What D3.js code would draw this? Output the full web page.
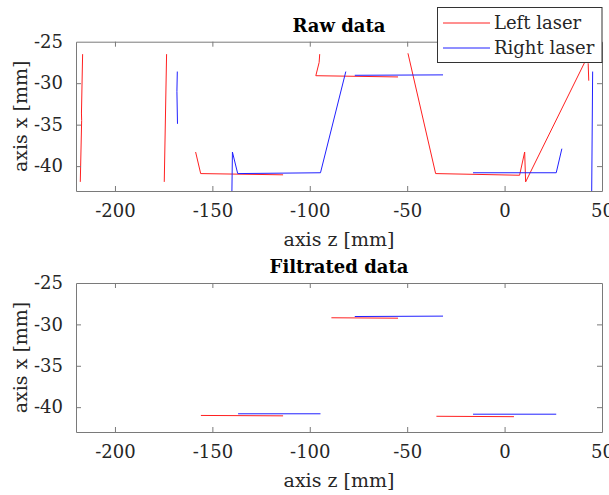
<!DOCTYPE html>
<html lang="en">
<head>
<meta charset="UTF-8">
<title>Raw and filtrated laser data</title>
<script src="https://d3js.org/d3.v7.min.js"></script>
<style>
	body { margin: 0; background: #fff; }
	svg { display: block; font-family: "DejaVu Serif", serif; }
</style>
</head>
<body>
<svg id="chart" width="609" height="495"></svg>
<script>
	// axis ticks and ranges
	var zTicks = [-200, -150, -100, -50, 0, 50];
	var xTicks = [-25, -30, -35, -40];
	var zDomain = [-220, 50];
	var xDomain = [-43, -25];

	// raw data, each segment is a list of [z, x] points
	var rawLeft = [
		[[-216.6, -26.5], [-217.2, -33.6], [-217.1, -34.5], [-217.8, -41.9]],
		[[-173.5, -26.5], [-174.7, -41.9]],
		[[-158.6, -38.3], [-156.0, -40.9], [-113.7, -41.05]],
		[[-94.9, -26.5], [-95.2, -27.5], [-96.9, -29.1], [-54.7, -29.25]],
		[[-49.6, -26.4], [-35.4, -40.9], [7.7, -41.1], [10.3, -38.3], [10.8, -41.9], [41.3, -27.4], [42.5, -25.5]],
		[[42.9, -27.6], [43.2, -29.7]]
	];
	var rawRight = [
		[[-168.0, -28.6], [-168.2, -31.0], [-167.9, -34.9]],
		[[-140.0, -43.5], [-139.7, -38.3], [-137.0, -40.9], [-94.5, -40.8], [-81.5, -28.6]],
		[[-76.9, -29.05], [-31.6, -29.0]],
		[[-16.2, -40.8], [26.5, -40.8], [29.4, -37.9]],
		[[45.2, -28.6], [44.7, -43.5]]
	];

	// filtrated data
	var filtLeft = [
		[[-155.9, -41.0], [-113.7, -41.05]],
		[[-88.9, -29.2], [-54.7, -29.25]],
		[[-35.0, -41.1], [4.8, -41.15]]
	];
	var filtRight = [
		[[-136.8, -40.8], [-94.5, -40.8]],
		[[-76.9, -29.05], [-31.6, -29.0]],
		[[-16.2, -40.85], [26.5, -40.85]]
	];

	var svg = d3.select("#chart");
	var left = 76, right = 602;
	var textColor = "#262626", axisColor = "#7a7a7a";
	var red = "#ff2020", blue = "#2020ff";
	var fmt = function(d) { return String(d); }; // plain hyphen minus like the original

	function panel(id, top, bottom, title, leftSeg, rightSeg) {
		var sx = d3.scaleLinear().domain(zDomain).range([left, right]);
		var sy = d3.scaleLinear().domain(xDomain).range([bottom, top]);
		var g = svg.append("g");

		g.append("clipPath").attr("id", id)
			.append("rect").attr("x", left).attr("y", top)
			.attr("width", right - left).attr("height", bottom - top);

		var line = d3.line().x(function(d) { return sx(d[0]); }).y(function(d) { return sy(d[1]); });
		var plot = g.append("g").attr("clip-path", "url(#" + id + ")");
		plot.selectAll("path.l").data(leftSeg).enter().append("path")
			.attr("d", line).attr("fill", "none").attr("stroke", red).attr("stroke-width", 1);
		plot.selectAll("path.r").data(rightSeg).enter().append("path")
			.attr("d", line).attr("fill", "none").attr("stroke", blue).attr("stroke-width", 1);

		// axes with inward ticks on all four sides (box)
		var axes = [
			[d3.axisBottom(sx).tickValues(zTicks), "translate(0," + bottom + ")", true],
			[d3.axisTop(sx).tickValues(zTicks), "translate(0," + top + ")", false],
			[d3.axisLeft(sy).tickValues(xTicks), "translate(" + left + ",0)", true],
			[d3.axisRight(sy).tickValues(xTicks), "translate(" + right + ",0)", false]
		];
		axes.forEach(function(a) {
			var ag = g.append("g").attr("transform", a[1])
				.call(a[0].tickFormat(fmt).tickSizeInner(-5).tickSizeOuter(0).tickPadding(a[2] ? 13 : 0));
			ag.select(".domain").attr("stroke", axisColor);
			ag.selectAll(".tick line").attr("stroke", axisColor);
			ag.selectAll("text").attr("font-size", 18).attr("fill", textColor)
				.attr("font-family", "DejaVu Serif");
			if (!a[2]) ag.selectAll("text").remove();
		});
		// ticks that sit on the frame corners are not drawn
		g.selectAll(".tick").filter(function(d) { return d === -25 || d === 50; }).select("line").remove();

		g.append("text").attr("x", 339).attr("y", top - 10)
			.attr("text-anchor", "middle").attr("font-size", 18).attr("font-weight", "bold")
			.attr("fill", "#000").text(title);
		g.append("text").attr("x", 339).attr("y", bottom + 55)
			.attr("text-anchor", "middle").attr("font-size", 19).attr("fill", textColor)
			.text("axis z [mm]");
		g.append("text").attr("transform", "translate(27," + ((top + bottom) / 2) + ") rotate(-90)")
			.attr("text-anchor", "middle").attr("font-size", 19).attr("fill", textColor)
			.text("axis x [mm]");
	}

	panel("clipRaw", 41.7, 191, "Raw data", rawLeft, rawRight);
	panel("clipFilt", 283, 432, "Filtrated data", filtLeft, filtRight);

	// legend on the raw data panel
	var legendItems = ["Left laser", "Right laser"];
	var legendColors = [red, blue];
	var lg = svg.append("g");
	lg.append("rect").attr("x", 437.5).attr("y", 7.5).attr("width", 164.5).attr("height", 55)
		.attr("fill", "#fff").attr("stroke", "#333").attr("stroke-width", 1);
	legendItems.forEach(function(name, i) {
		var y = 23 + i * 25;
		lg.append("line").attr("x1", 443).attr("x2", 490).attr("y1", y).attr("y2", y)
			.attr("stroke", legendColors[i]).attr("stroke-width", 1);
		lg.append("text").attr("x", 494).attr("y", y + 6).attr("font-size", 18)
			.attr("fill", textColor).text(name);
	});
</script>
</body>
</html>
